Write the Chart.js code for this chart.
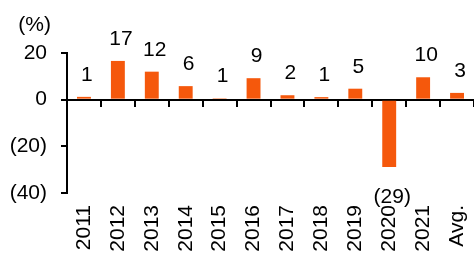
<!DOCTYPE html>
<html>
<head>
<meta charset="utf-8">
<script src="https://cdn.jsdelivr.net/npm/chart.js@4/dist/chart.umd.min.js"></script>
<style>
  html, body { margin: 0; padding: 0; background: #ffffff; }
  #wrap { width: 474px; height: 254px; }
</style>
</head>
<body>
<div id="wrap"><canvas id="c" width="474" height="254"></canvas></div>
<script>
// ---- data ----
const categories = ['2011', '2012', '2013', '2014', '2015', '2016', '2017', '2018', '2019', '2020', '2021', 'Avg.'];
const growthValues = [1.2, 16.6, 12.0, 5.8, 0.6, 9.2, 1.9, 1.1, 4.7, -28.9, 9.6, 2.9];
const yTickValues = [20, 0, -20, -40];
const unitLabel = '(%)';

const FONT = "'Liberation Sans', Arial, sans-serif";
const BAR_COLOR = 'rgb(245,88,12)';

function fmt(v) {
  const r = Math.round(v);
  return r < 0 ? '(' + Math.abs(r) + ')' : String(r);
}

const labelPlugin = {
  id: 'valueLabels',
  afterDatasetsDraw(chart) {
    const ctx = chart.ctx;
    const meta = chart.getDatasetMeta(0);
    ctx.save();
    ctx.font = '21px ' + FONT;
    ctx.fillStyle = '#000';
    ctx.textAlign = 'center';
    ctx.textBaseline = 'alphabetic';
    meta.data.forEach((bar, i) => {
      const v = growthValues[i];
      const x = bar.x + 3;
      if (v >= 0) {
        ctx.fillText(fmt(v), x, bar.y - 16);
      } else {
        ctx.fillText(fmt(v), x, bar.y + 36);
      }
    });
    const ys = chart.scales.y;
    ctx.textAlign = 'right';
    ctx.fillText(unitLabel, ys.right - 16, chart.chartArea.top - 22);
    ctx.restore();
  }
};

new Chart(document.getElementById('c'), {
  type: 'bar',
  data: {
    labels: categories,
    datasets: [{
      data: growthValues,
      backgroundColor: BAR_COLOR,
      borderWidth: 0,
      barPercentage: 0.41,
      categoryPercentage: 1.0,
      xAxisID: 'x'
    }]
  },
  options: {
    responsive: false,
    animation: false,
    devicePixelRatio: 1,
    layout: { padding: { top: 53, right: -3, left: 0, bottom: 0 } },
    plugins: {
      legend: { display: false },
      tooltip: { enabled: false },
      title: { display: false }
    },
    scales: {
      x: {
        type: 'category',
        position: { y: 0 },
        offset: true,
        ticks: { display: false },
        grid: {
          display: true,
          offset: true,
          drawOnChartArea: false,
          drawTicks: true,
          tickLength: 6,
          color: '#000',
          lineWidth: 2
        },
        border: { display: true, color: '#000', width: 2 }
      },
      x2: {
        type: 'category',
        position: 'bottom',
        offset: true,
        grid: { display: false, drawTicks: false },
        border: { display: false },
        ticks: {
          minRotation: 90,
          maxRotation: 90,
          autoSkip: false,
          padding: 12,
          color: '#000',
          font: { family: FONT, size: 21 }
        },
        afterFit(scale) {
          scale.height = 61;
          scale.paddingLeft = 0;
          scale.paddingRight = 0;
        }
      },
      y: {
        min: -40,
        max: 20,
        position: 'left',
        afterBuildTicks(scale) {
          scale.ticks = yTickValues.map(v => ({ value: v }));
        },
        ticks: {
          padding: 14,
          color: '#000',
          font: { family: FONT, size: 21 },
          callback: (v) => fmt(v)
        },
        grid: {
          display: true,
          drawOnChartArea: false,
          drawTicks: true,
          tickLength: 6,
          color: '#000',
          lineWidth: 2
        },
        border: { display: true, color: '#000', width: 2 },
        afterFit(scale) {
          scale.width = 67;
          scale.paddingTop = 0;
          scale.paddingBottom = 0;
        }
      }
    }
  },
  plugins: [labelPlugin]
});
</script>
</body>
</html>
